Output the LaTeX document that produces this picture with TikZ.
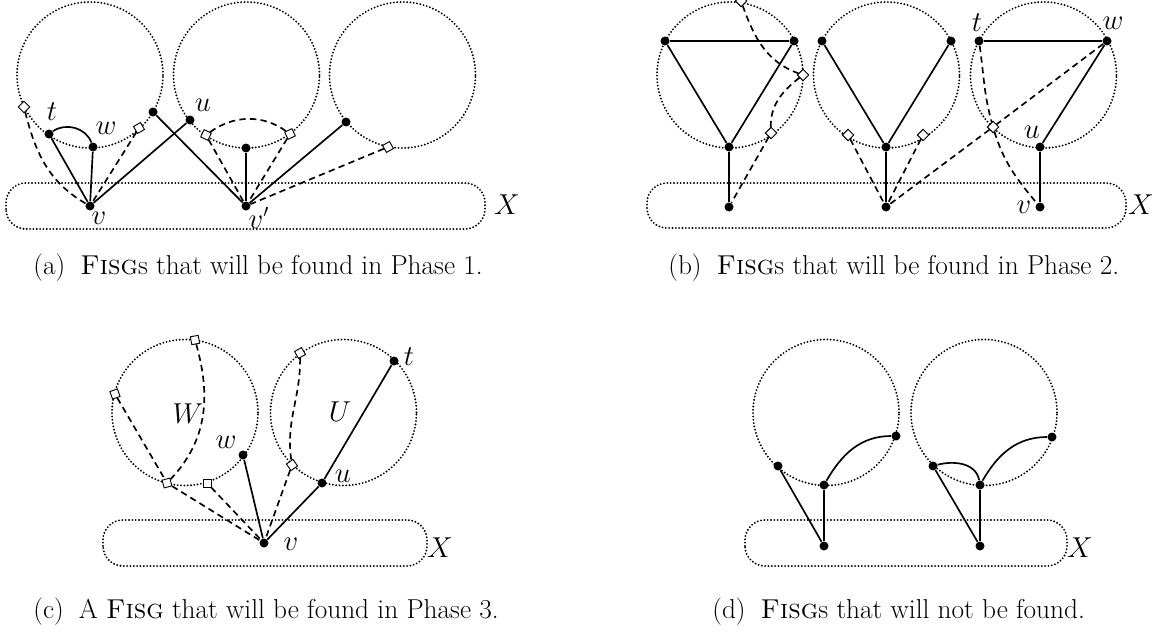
\documentclass[tikz,border=0pt]{standalone}
\begin{document}
\begin{tikzpicture}[x=0.6pt,y=0.6pt,
  dotline/.style={line width=1.25pt, line cap=round, dash pattern=on 0pt off 2pt},
  edge/.style={line width=1pt},
  dashedge/.style={line width=1pt, dash pattern=on 3.8pt off 2.6pt},
  dot/.style={circle, fill=black, inner sep=0pt, minimum size=5.4pt},
  sq/.style={draw, fill=white, inner sep=0pt, minimum size=4.8pt, line width=0.55pt},
  lbl/.style={inner sep=0pt, font=\fontsize{16}{18}\selectfont},
  captxt/.style={anchor=west, inner sep=0pt, font=\fontsize{16.4}{18}\selectfont}]
\useasboundingbox (0,0) rectangle (1158,637);

% ---------------- panel (a)
\draw[dotline] (90,562) circle[radius=43.8pt];
\draw[dotline] (246.5,562) circle[radius=43.8pt];
\draw[dotline] (402.5,562) circle[radius=43.8pt];
\draw[dotline, rounded corners=12pt] (6,408) rectangle (485,454);

\node[dot] (a-v) at (90,431) {};
\node[dot] (a-t) at (49,503) {};
\node[dot] (a-w) at (93,490) {};
\node[dot] (a-p) at (153,525) {};
\node[dot] (a-u) at (190,517) {};
\node[dot] (a-v2) at (246,431) {};
\node[dot] (a-m) at (246,489) {};
\node[dot] (a-r) at (346,515) {};
\node[sq, rotate=45] (a-s1) at (24,530) {};
\node[sq, rotate=30] (a-s2) at (139,509) {};
\node[sq, rotate=-25] (a-s3) at (206,502) {};
\node[sq, rotate=25] (a-s4) at (290,503) {};
\node[sq, rotate=30] (a-s5) at (388,490) {};

\node[lbl] (a-lt) at (52,525) {$t$};
\node[lbl] (a-lw) at (106,509) {$w$};
\node[lbl] (a-lv) at (99,419) {$v$};
\node[lbl] (a-lu) at (203,532) {$u$};
\node[lbl] (a-lv2) at (259,419) {$v'$};
\node[lbl] (a-lX) at (507,432) {$X$};

\draw[edge] (a-t) -- (a-v);
\draw[edge] (a-w) -- (a-v);
\draw[edge] (a-v) -- (a-u);
\draw[edge] (a-t) to[out=35,in=110] (a-w);
\draw[edge] (a-p) -- (a-v2);
\draw[edge] (a-m) -- (a-v2);
\draw[edge] (a-r) -- (a-v2);
\draw[dashedge] (a-s1) to[out=-80,in=150] (a-v);
\draw[dashedge] (a-s2) -- (a-v);
\draw[dashedge] (a-s3) to[out=40,in=140] (a-s4);
\draw[dashedge] (a-s3) -- (a-v2);
\draw[dashedge] (a-s4) -- (a-v2);
\draw[dashedge] (a-s5) -- (a-v2);

\node[captxt] (a-cap) at (33,369) {(a)\hspace{0.55em}\textsc{Fisg}s that will be found in Phase 1.};

% ---------------- panel (b)
\draw[dotline] (730,562) circle[radius=43.8pt];
\draw[dotline] (886.5,562) circle[radius=43.8pt];
\draw[dotline] (1043.5,562) circle[radius=43.8pt];
\draw[dotline, rounded corners=12pt] (647,409) rectangle (1126,454);

\node[dot] (b-1a) at (665,596) {};
\node[dot] (b-1b) at (794,596) {};
\node[dot] (b-1c) at (729,490) {};
\node[dot] (b-1x) at (729,430) {};
\node[dot] (b-2a) at (822,596) {};
\node[dot] (b-2b) at (886,490) {};
\node[dot] (b-2c) at (951,596) {};
\node[dot] (b-2x) at (886,430) {};
\node[dot] (b-t) at (979,596) {};
\node[dot] (b-w) at (1107,596) {};
\node[dot] (b-u) at (1040,490) {};
\node[dot] (b-v) at (1040,430) {};
\node[sq, rotate=45] (b-d1) at (741,636) {};
\node[sq, rotate=45] (b-d2) at (803,562) {};
\node[sq, rotate=45] (b-d3) at (771,504) {};
\node[sq, rotate=45] (b-d4) at (848,502) {};
\node[sq, rotate=45] (b-d5) at (923,502) {};
\node[sq, rotate=45] (b-d6) at (993,510) {};

\node[lbl] (b-lt) at (977,614) {$t$};
\node[lbl] (b-lw) at (1113,614) {$w$};
\node[lbl] (b-lu) at (1032,505) {$u$};
\node[lbl] (b-lv) at (1024,430) {$v$};
\node[lbl] (b-lX) at (1141,432) {$X$};

\draw[edge] (b-1a) -- (b-1b);
\draw[edge] (b-1a) -- (b-1c);
\draw[edge] (b-1b) -- (b-1c);
\draw[edge] (b-1c) -- (b-1x);
\draw[edge] (b-2a) -- (b-2b);
\draw[edge] (b-2c) -- (b-2b);
\draw[edge] (b-2b) -- (b-2x);
\draw[edge] (b-t) -- (b-w);
\draw[edge] (b-w) -- (b-u);
\draw[edge] (b-u) -- (b-v);
\draw[dashedge] (b-d1) to[out=-75,in=155] (b-d2);
\draw[dashedge] (b-d2) to[out=210,in=85] (b-d3);
\draw[dashedge] (b-d3) -- (b-1x);
\draw[dashedge] (b-d4) -- (b-2x);
\draw[dashedge] (b-d5) -- (b-2x);
\draw[dashedge] (b-w) -- (b-d6);
\draw[dashedge] (b-d6) -- (b-2x);
\draw[dashedge] (b-t) to[out=-82,in=100] (b-d6);
\draw[dashedge] (b-d6) to[out=-78,in=130] (b-v);

\node[captxt] (b-cap) at (668,369) {(b)\hspace{0.55em}\textsc{Fisg}s that will be found in Phase 2.};

% ---------------- panel (c)
\draw[dotline] (185,224.5) circle[radius=43.8pt];
\draw[dotline] (343.5,224.5) circle[radius=43.8pt];
\draw[dotline, rounded corners=12pt] (103,71) rectangle (427,117);

\node[dot] (c-v) at (264,94) {};
\node[dot] (c-w) at (243,182) {};
\node[dot] (c-u) at (322,154) {};
\node[dot] (c-t) at (394,276) {};
\node[sq, rotate=10] (c-s1) at (195,297) {};
\node[sq, rotate=20] (c-s2) at (115,243) {};
\node[sq, rotate=15] (c-s3) at (167,154) {};
\node[sq] (c-s4) at (207,154) {};
\node[sq, rotate=30] (c-s5) at (300,284) {};
\node[sq, rotate=35] (c-s6) at (292,172) {};

\node[lbl] (c-lv) at (291,93) {$v$};
\node[lbl] (c-lw) at (226,195) {$w$};
\node[lbl] (c-lu) at (343,161) {$u$};
\node[lbl] (c-lt) at (409,280) {$t$};
\node[lbl] (c-lW) at (188,223) {$W$};
\node[lbl] (c-lU) at (340,225) {$U$};
\node[lbl] (c-lX) at (440,89) {$X$};

\draw[edge] (c-w) -- (c-v);
\draw[edge] (c-v) -- (c-u);
\draw[edge] (c-u) -- (c-t);
\draw[dashedge] (c-s1) to[out=-75,in=45] (c-s3);
\draw[dashedge] (c-s2) -- (c-s3);
\draw[dashedge] (c-s3) -- (c-v);
\draw[dashedge] (c-s4) -- (c-v);
\draw[dashedge] (c-s5) to[out=-92,in=95] (c-s6);
\draw[dashedge] (c-s6) -- (c-v);

\node[captxt] (c-cap) at (33,25) {(c)\hspace{0.55em}A \textsc{Fisg} that will be found in Phase 3.};

% ---------------- panel (d)
\draw[dotline] (826,224.5) circle[radius=43.8pt];
\draw[dotline] (984,224.5) circle[radius=43.8pt];
\draw[dotline, rounded corners=12pt] (745,71) rectangle (1067,117);

\node[dot] (d-1l) at (778,171) {};
\node[dot] (d-1b) at (824,152) {};
\node[dot] (d-1r) at (896,201) {};
\node[dot] (d-1x) at (824,91) {};
\node[dot] (d-2l) at (933,171) {};
\node[dot] (d-2b) at (980,152) {};
\node[dot] (d-2r) at (1052,200) {};
\node[dot] (d-2x) at (980,91) {};
\node[lbl] (d-lX) at (1080,89) {$X$};

\draw[edge] (d-1l) -- (d-1x);
\draw[edge] (d-1b) -- (d-1x);
\draw[edge] (d-1b) to[out=60,in=180] (d-1r);
\draw[edge] (d-2l) -- (d-2x);
\draw[edge] (d-2b) -- (d-2x);
\draw[edge] (d-2b) to[out=60,in=180] (d-2r);
\draw[edge] (d-2l) to[out=15,in=100] (d-2b);

\node[captxt] (d-cap) at (712,25) {(d)\hspace{0.55em}\textsc{Fisg}s that will not be found.};
\end{tikzpicture}
\end{document}
